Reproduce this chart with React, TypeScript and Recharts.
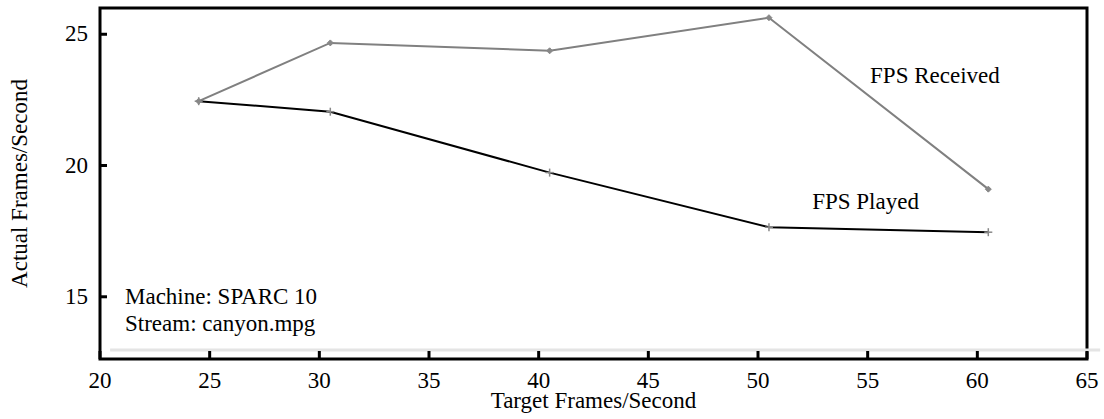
import React from 'react';
import {
  LineChart,
  Line,
  XAxis,
  YAxis,
  ReferenceArea,
  ReferenceLine,
  ReferenceDot,
} from 'recharts';

const targetFps = [24.5, 30.5, 40.5, 50.5, 60.5];
const fpsReceived = [22.45, 24.67, 24.37, 25.63, 19.1];
const fpsPlayed = [22.45, 22.05, 19.73, 17.65, 17.46];

const xTicks = [20, 25, 30, 35, 40, 45, 50, 55, 60, 65];
const yTicks = [15, 20, 25];
const X_DOMAIN: [number, number] = [20, 65];
const Y_DOMAIN: [number, number] = [12.63, 26];

const data = targetFps.map((x, i) => ({
  x,
  received: fpsReceived[i],
  played: fpsPlayed[i],
}));

const FONT = "'Liberation Serif', 'Times New Roman', serif";
const txt = { fontFamily: FONT, fill: '#000' };

const XTick = (props: any) => {
  const { x, y, payload } = props;
  return (
    <g>
      <line x1={x} y1={y} x2={x} y2={y - 8} stroke="#000" strokeWidth={3} />
      <text x={x} y={y + 29} textAnchor="middle" style={{ ...txt, fontSize: 23 }}>
        {payload.value}
      </text>
    </g>
  );
};

const LeftTick = (props: any) => {
  const { x, y, payload } = props;
  return (
    <g>
      <line x1={x} y1={y} x2={x + 7} y2={y} stroke="#000" strokeWidth={3} />
      <text x={x - 12} y={y + 7} textAnchor="end" style={{ ...txt, fontSize: 23 }}>
        {payload.value}
      </text>
    </g>
  );
};

const RightTick = (props: any) => {
  const { x, y } = props;
  return <line x1={x} y1={y} x2={x - 7} y2={y} stroke="#000" strokeWidth={3} />;
};

// tiny gray diamond on the received curve
const DiamondDot = (props: any) => {
  const { cx, cy } = props;
  if (cx == null || cy == null) return null;
  const s = 3;
  return (
    <path
      d={`M${cx - s},${cy} L${cx},${cy - s} L${cx + s},${cy} L${cx},${cy + s} Z`}
      fill="#888"
      stroke="#888"
      strokeWidth={1}
    />
  );
};

// tiny gray plus on the played curve
const PlusDot = (props: any) => {
  const { cx, cy } = props;
  if (cx == null || cy == null) return null;
  const s = 4;
  return (
    <g stroke="#888" strokeWidth={1.5}>
      <line x1={cx - s} y1={cy} x2={cx + s} y2={cy} />
      <line x1={cx} y1={cy - s} x2={cx} y2={cy + s} />
    </g>
  );
};

const noteLabel = (text: string) => (props: any) => {
  const { viewBox } = props;
  const cx = viewBox.x + viewBox.width / 2;
  const cy = viewBox.y + viewBox.height / 2;
  return (
    <text x={cx} y={cy} textAnchor="start" style={{ ...txt, fontSize: 23 }}>
      {text}
    </text>
  );
};

const yTitle = (props: any) => {
  const { viewBox } = props;
  const cy = viewBox.y + viewBox.height / 2;
  return (
    <text
      x={27}
      y={cy}
      transform={`rotate(-90 27 ${cy})`}
      textAnchor="middle"
      style={{ ...txt, fontSize: 23 }}
    >
      Actual Frames/Second
    </text>
  );
};

const xTitle = (props: any) => {
  const { viewBox } = props;
  const cx = viewBox.x + viewBox.width / 2;
  return (
    <text x={cx} y={408} textAnchor="middle" style={{ ...txt, fontSize: 23 }}>
      Target Frames/Second
    </text>
  );
};

const notes = [
  { text: 'FPS Received', x: 55.11, y: 23.15 },
  { text: 'FPS Played', x: 52.47, y: 18.33 },
  { text: 'Machine: SPARC 10', x: 21.14, y: 14.74 },
  { text: 'Stream: canyon.mpg', x: 21.14, y: 13.7 },
];

export default function App() {
  return (
    <div
      style={{ position: 'absolute', left: 0, top: 0, background: '#fff', fontFamily: FONT }}
    >
      <LineChart
        width={1104}
        height={419}
        data={data}
        margin={{ top: 8, right: 17, bottom: 0, left: 0 }}
        style={{ fontFamily: FONT }}
      >
        <XAxis
          dataKey="x"
          type="number"
          domain={X_DOMAIN}
          ticks={xTicks}
          allowDataOverflow
          height={60}
          axisLine={false}
          tickLine={false}
          tickSize={0}
          tickMargin={0}
          tick={<XTick />}
          label={{ content: xTitle }}
        />
        <YAxis
          yAxisId="left"
          type="number"
          domain={Y_DOMAIN}
          ticks={yTicks}
          allowDataOverflow
          width={100}
          axisLine={false}
          tickLine={false}
          tickSize={0}
          tickMargin={0}
          tick={<LeftTick />}
          label={{ content: yTitle }}
        />
        <YAxis
          yAxisId="right"
          orientation="right"
          type="number"
          domain={Y_DOMAIN}
          ticks={yTicks}
          allowDataOverflow
          width={0}
          axisLine={false}
          tickLine={false}
          tickSize={0}
          tickMargin={0}
          tick={<RightTick />}
        />
        <ReferenceLine
          yAxisId="left"
          segment={[
            { x: 20.46, y: 12.976 },
            { x: 65.6, y: 12.976 },
          ]}
          stroke="#e4e4e4"
          strokeWidth={3}
          ifOverflow="visible"
        />
        <ReferenceArea
          yAxisId="left"
          x1={X_DOMAIN[0]}
          x2={X_DOMAIN[1]}
          y1={Y_DOMAIN[0]}
          y2={Y_DOMAIN[1]}
          fill="none"
          fillOpacity={0}
          stroke="#000"
          strokeWidth={3}
          strokeOpacity={1}
          ifOverflow="visible"
        />
        <Line
          yAxisId="left"
          dataKey="received"
          type="linear"
          stroke="#808080"
          strokeWidth={2}
          dot={<DiamondDot />}
          activeDot={false}
          isAnimationActive={false}
        />
        <Line
          yAxisId="left"
          dataKey="played"
          type="linear"
          stroke="#000"
          strokeWidth={2}
          dot={<PlusDot />}
          activeDot={false}
          isAnimationActive={false}
        />
        {notes.map((n) => (
          <ReferenceDot
            key={n.text}
            yAxisId="left"
            x={n.x}
            y={n.y}
            r={1}
            fill="none"
            stroke="none"
            label={{ content: noteLabel(n.text) }}
          />
        ))}
      </LineChart>
    </div>
  );
}
